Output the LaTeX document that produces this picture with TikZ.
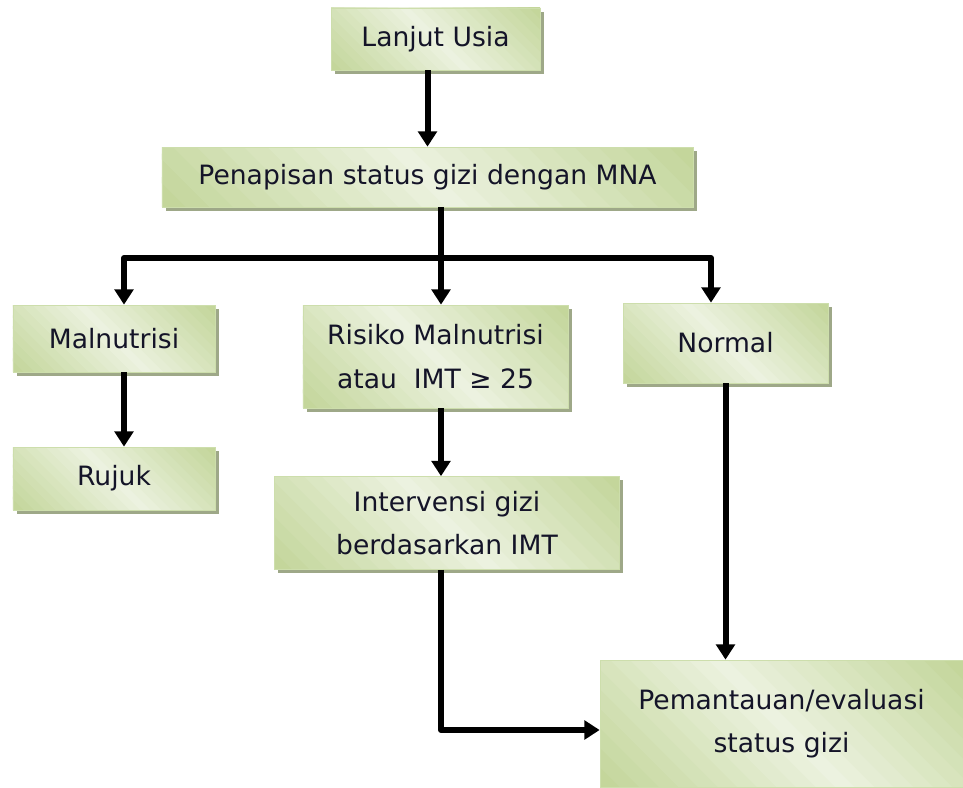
\documentclass[tikz,border=0pt]{standalone}
\usepackage{fontspec}
\setmainfont{DejaVu Sans}
\usepackage{tikz}
\usetikzlibrary{arrows.meta, calc}
\usepackage{xcolor}

\definecolor{boxgreen}{RGB}{194,213,152}
\definecolor{boxlight}{RGB}{236,242,224}
\definecolor{boxedge}{RGB}{205,222,172}
\definecolor{boxshadow}{RGB}{158,168,136}
\definecolor{ink}{RGB}{20,20,40}

\tikzset{
    box/.style={draw=boxedge, line width=0.6pt, align=center, inner sep=0pt,
        fill=boxgreen, text=ink, font=\fontsize{22.7}{37}\selectfont,
        preaction={fill=boxshadow, transform canvas={shift={(0.11cm,-0.11cm)}}},
        path picture={
            \foreach \s in {0,0.04,...,0.96} {
                \pgfmathsetmacro\mixp{100-100*abs(2*\s+0.04-1)}
                \coordinate (p1) at ($(path picture bounding box.south west)!\s!(path picture bounding box.north east)$);
                \coordinate (p2) at ($(path picture bounding box.south west)!\s+0.05!(path picture bounding box.north east)$);
                \fill[boxlight!\mixp!boxgreen] ($(p1)+(-20cm,20cm)$) -- ($(p1)+(20cm,-20cm)$)
                    -- ($(p2)+(20cm,-20cm)$) -- ($(p2)+(-20cm,20cm)$) -- cycle;
            }
        }},
    flow/.style={line width=0.18cm, -{Triangle[width=0.56cm,length=0.46cm]}},
    link/.style={line width=0.18cm}
}

\begin{document}
\begin{tikzpicture}[x=0.03cm, y=-0.03cm]
    \useasboundingbox (0, 0) rectangle (963, 787);

    \node[box, minimum width=6.27cm, minimum height=1.86cm] (usia) at (435.5, 39) {Lanjut Usia};
    \node[box, minimum width=15.93cm, minimum height=1.8cm] (mna) at (427.5, 177) {Penapisan status gizi dengan MNA};
    \node[box, minimum width=6.06cm, minimum height=2.01cm] (maln) at (114, 338.5) {Malnutrisi};
    \node[box, minimum width=7.95cm, minimum height=3.09cm] (risiko) at (435.5, 356.5) {Risiko Malnutrisi\\atau\ \ IMT ≥ 25};
    \node[box, minimum width=6.15cm, minimum height=2.4cm] (normal) at (725.5, 343) {Normal};
    \node[box, minimum width=6.06cm, minimum height=1.89cm] (rujuk) at (114, 478.5) {Rujuk};
    \node[box, minimum width=10.35cm, minimum height=2.79cm] (interv) at (447, 523) {Intervensi gizi\\berdasarkan IMT};
    \node[box, minimum width=10.89cm, minimum height=3.81cm] (pantau) at (781.5, 723.5) {Pemantauan/evaluasi\\status gizi};

    \coordinate (jl) at (124, 258);
    \coordinate (jm) at (441, 258);
    \coordinate (jr) at (711, 258);
    \coordinate (bend) at (441, 730);

    \draw[flow] (usia.south -| mna.north) -- (mna.north);
    \draw[link] (mna.south -| jm) -- (jm);
    \draw[link, line cap=round] (jl) -- (jr);
    \draw[flow] (jl) -- (jl |- maln.north);
    \draw[flow] (jm) -- (jm |- risiko.north);
    \draw[flow] (jr) -- (jr |- normal.north);
    \draw[flow] (maln.south -| jl) -- (rujuk.north -| jl);
    \draw[flow] (risiko.south -| jm) -- (interv.north -| jm);
    \draw[flow] (normal.south) -- (normal.south |- pantau.north);
    \draw[flow, line join=round] (interv.south -| bend) -- (bend) -- (bend -| pantau.west);
\end{tikzpicture}
\end{document}
